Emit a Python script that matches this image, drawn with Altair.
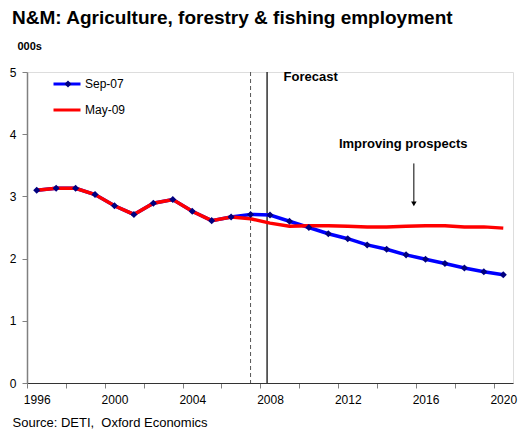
import altair as alt
import pandas as pd

years = list(range(1996, 2021))
sep07 = [3.10, 3.13, 3.13, 3.03, 2.85, 2.71, 2.89, 2.95, 2.76, 2.61, 2.67, 2.71, 2.70,
         2.60, 2.50, 2.40, 2.32, 2.22, 2.15, 2.06, 1.99, 1.92, 1.85, 1.79, 1.74]
may09 = [3.10, 3.13, 3.13, 3.03, 2.85, 2.71, 2.89, 2.95, 2.76, 2.61, 2.67, 2.64, 2.57,
         2.52, 2.53, 2.53, 2.52, 2.51, 2.51, 2.52, 2.53, 2.53, 2.51, 2.51, 2.49]
series_names = ["Sep-07", "May-09"]
series_colors = ["#0000FF", "#FF0000"]

dashed_year = [2007.0]
forecast_year = [2007.85]
notes = pd.DataFrame({
    "x": [2008.7, 2014.85],
    "y": [4.92, 3.84],
    "text": ["Forecast", "Improving prospects"],
})
arrow = pd.DataFrame({"x": [2015.4], "top": [3.53], "bottom": [2.90], "tip": [2.88]})

df = pd.DataFrame({
    "year": years * 2,
    "value": sep07 + may09,
    "series": ["Sep-07"] * len(years) + ["May-09"] * len(years),
})
df["marker"] = df["series"]

FONT = "Liberation Sans"
W, H = 486, 311

xscale = alt.Scale(domain=[1995.5, 2020.5], nice=False, zero=False)
yscale = alt.Scale(domain=[0, 5], nice=False)
cscale = alt.Scale(domain=series_names, range=series_colors)

tick_vals = [1995.5 + 2 * k for k in range(13)]

xaxis = alt.Axis(
    values=tick_vals, grid=False, tickSize=5, tickColor="#808080", domainColor="#333333",
    domainWidth=1.2, labelExpr="((datum.value - 1995.5) % 4 == 0) ? toString(datum.value + 0.5) : ''",
    labelOffset=9.7, labelFlush=False, labelOverlap=False, labelFontSize=12, labelColor="#000000",
    labelPadding=6, labelFont=FONT,
    title="Source: DETI,\u00a0 Oxford Economics", titleFontWeight="normal", titleFontSize=13,
    titleFont=FONT, titleX=-15, titleY=39, titleAlign="left", titleBaseline="middle",
    titleColor="#000000",
)
yaxis = alt.Axis(
    values=[0, 1, 2, 3, 4, 5], format="d", grid=False, tickSize=5, tickColor="#808080",
    domainColor="#808080", domainWidth=1.5, labelFontSize=12, labelColor="#000000",
    labelPadding=6, labelFont=FONT,
    title="000s", titleAngle=0, titleX=-10, titleY=-26, titleAlign="left", titleBaseline="middle",
    titleFontWeight="bold", titleFontSize=11, titleFont=FONT, titleColor="#000000",
)

base = alt.Chart(df)

line_legend = alt.Legend(
    title=None, orient="none", legendX=25, legendY=4, symbolType="stroke", symbolSize=729,
    symbolStrokeWidth=3, labelFontSize=12, labelFont=FONT, labelColor="#000000", labelOffset=3,
    clipHeight=16, rowPadding=10, padding=0,
)
marker_legend = alt.Legend(
    title=None, orient="none", legendX=35, legendY=4, symbolSize=50,
    symbolFillColor="#000080", symbolStrokeWidth=0, labelExpr="''", labelFontSize=12,
    clipHeight=16, rowPadding=10, padding=0,
)

blue = base.transform_filter(alt.datum.series == "Sep-07").mark_line(
    strokeWidth=3.5, interpolate="linear").encode(
    x=alt.X("year:Q", scale=xscale, axis=xaxis),
    y=alt.Y("value:Q", scale=yscale, axis=yaxis),
    color=alt.Color("series:N", scale=cscale, legend=line_legend),
)
red = base.transform_filter(alt.datum.series == "May-09").mark_line(
    strokeWidth=3.5, interpolate="linear").encode(
    x="year:Q", y="value:Q", color=alt.Color("series:N", scale=cscale),
)
pts = base.transform_filter(alt.datum.series == "Sep-07").mark_point(
    filled=True, size=50, color="#000080", opacity=1).encode(
    x="year:Q", y="value:Q",
    shape=alt.Shape("marker:N", scale=alt.Scale(domain=["Sep-07"], range=["diamond"]),
                    legend=marker_legend),
)

dashed = alt.Chart(pd.DataFrame({"x": dashed_year})).mark_rule(
    strokeDash=[4, 3], color="#555555", strokeWidth=1).encode(x="x:Q")
solid = alt.Chart(pd.DataFrame({"x": forecast_year})).mark_rule(
    color="#222222", strokeWidth=1.4).encode(x="x:Q")

note_left = alt.Chart(notes.iloc[[0]]).mark_text(
    font=FONT, fontSize=13, fontWeight="bold", align="left", baseline="middle", color="#000000").encode(
    x="x:Q", y="y:Q", text="text:N")
note_center = alt.Chart(notes.iloc[[1]]).mark_text(
    font=FONT, fontSize=13, fontWeight="bold", align="center", baseline="middle", color="#000000").encode(
    x="x:Q", y="y:Q", text="text:N")

arrow_line = alt.Chart(arrow).mark_rule(color="#000000", strokeWidth=1).encode(
    x="x:Q", y="top:Q", y2="bottom:Q")
arrow_head = alt.Chart(arrow).mark_point(shape="triangle-down", filled=True, size=30,
                                         color="#000000", opacity=1).encode(x="x:Q", y="tip:Q")

chart = alt.layer(
    dashed, solid, blue, red, pts, note_left, note_center, arrow_line, arrow_head
).properties(
    width=W, height=H,
    title=alt.TitleParams(
        "N&M: Agriculture, forestry & fishing employment", anchor="start", frame="group", dx=-15,
        fontSize=19, font=FONT, fontWeight="bold", color="#000000", offset=12,
    ),
    autosize=alt.AutoSizeParams(type="none"),
    padding={"left": 27, "top": 72, "right": 10, "bottom": 49},
).configure_view(stroke=None).configure(font=FONT, background="#FFFFFF")

chart.save("out.html", embed_options={"renderer": "svg", "actions": False})
